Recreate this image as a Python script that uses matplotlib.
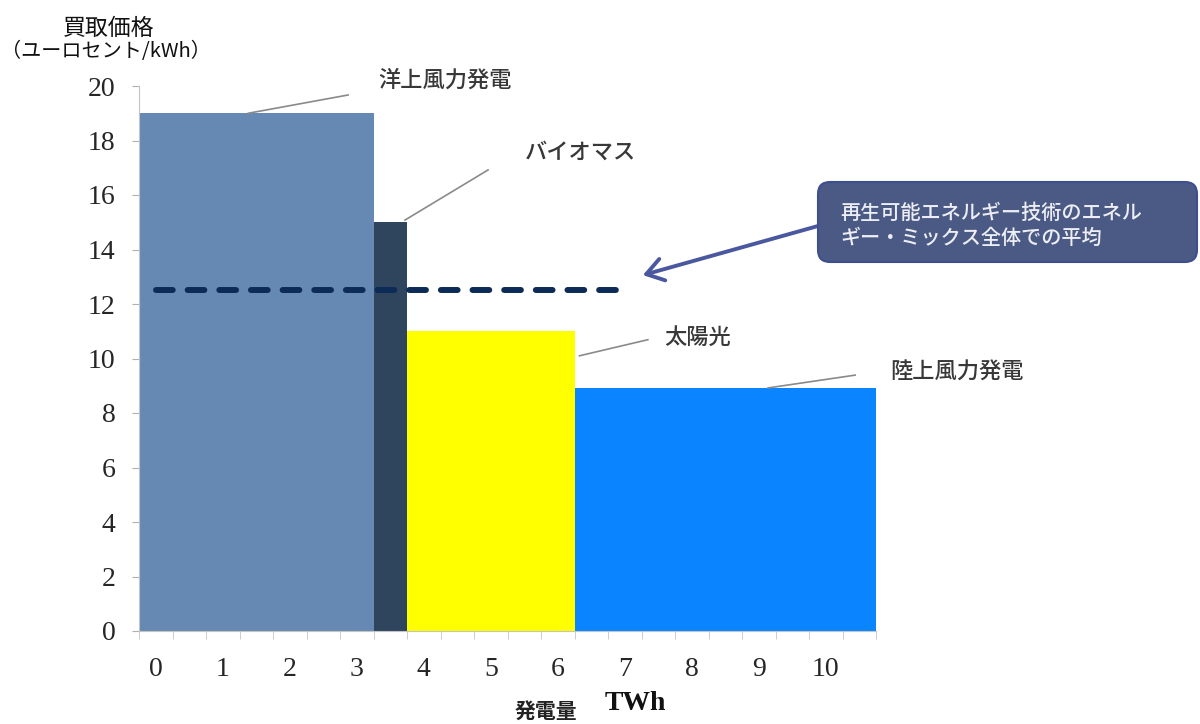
import numpy as np
import matplotlib.pyplot as plt
from matplotlib.patches import FancyBboxPatch

plt.rcParams['font.family'] = ['Liberation Serif', 'DejaVu Serif']
cjk = ['Noto Sans CJK JP', 'DejaVu Sans']

# data
sources = ["洋上風力発電", "バイオマス", "太陽光", "陸上風力発電"]
widths = [3.5, 0.5, 2.5, 4.5]          # TWh (half-unit grid of the original)
prices = [19.0, 15.0, 11.0, 8.9]       # euro cent / kWh
colors = ["#6689b3", "#2f445d", "#ffff00", "#0a84ff"]
avg_price = 12.5
avg_span = [0.25, 7.25]
xtick_labels = [str(i) for i in range(11)]
ytick_values = list(range(0, 21, 2))
avg_note = ["再生可能エネルギー技術のエネル", "ギー・ミックス全体での平均"]

lefts = np.concatenate([[0], np.cumsum(widths)[:-1]])

W, H = 1200, 724
fig = plt.figure(figsize=(W / 100, H / 100), dpi=100)
ax = fig.add_axes([139 / W, 1 - 631 / H, (876 - 139) / W, (631 - 86) / H])

ax.bar(lefts, prices, width=widths, align='edge', color=colors, linewidth=0, zorder=2)
ax.plot(avg_span, [avg_price] * 2, color='#0d2b57', lw=4.3,
        linestyle=(0, (2.8, 2.5)), dash_capstyle='round', zorder=3)

ax.set_xlim(0, sum(widths))
ax.set_ylim(0, 20)
for s in ['top', 'right']:
    ax.spines[s].set_visible(False)
for s in ['left', 'bottom']:
    ax.spines[s].set_color('#c4c4c4')

ax.set_yticks(ytick_values)
ax.tick_params(axis='y', length=5, color='#b0b0b0', pad=12, labelsize=20,
               labelcolor='#262626')
ax.set_xticks(np.arange(len(xtick_labels)) + 0.25)
ax.set_xticklabels(xtick_labels)
ax.set_xticks(np.arange(0, sum(widths) + 0.01, 0.5), minor=True)
ax.tick_params(axis='x', which='major', length=0, pad=19, labelsize=20,
               labelcolor='#262626')
ax.tick_params(axis='x', which='minor', length=6, color='#c4c4c4')

# leader lines and labels: (fraction along bar, y shift, leader dx, dy, text dx, dy)
layout = [(0.466, 0.0, 1.49, 0.67, 0.45, 0.55),
          (0.94, 0.08, 1.24, 1.84, 0.55, 0.66),
          (1.03, -0.9, 1.02, 0.59, 0.25, 0.07),
          (0.642, 0.02, 1.30, 0.47, 0.53, 0.11)]
for name, l, w, p, (fx, sy, dx, dy, tx, ty) in zip(sources, lefts, widths, prices, layout):
    x0, y0 = l + fx * w, p + sy
    ax.plot([x0, x0 + dx], [y0, y0 + dy], color='#8a8a8a', lw=1.2, zorder=4,
            clip_on=False)
    ax.text(x0 + dx + tx, y0 + dy + ty, name, family=cjk, fontsize=16,
            fontweight='medium', color='#383838', ha='left', va='center')

# note box with arrow
box = FancyBboxPatch((818 / W, 1 - 262 / H), (1197 - 818) / W, 80 / H,
                     boxstyle="round,pad=0,rounding_size=0.01",
                     mutation_aspect=W / H, transform=fig.transFigure,
                     facecolor='#4b5985', edgecolor='#3e4f8f', lw=1.5)
fig.patches.append(box)
fig.text(840 / W, 1 - 213 / H, avg_note[0], family=cjk, fontsize=14.5,
         fontweight='medium', color='#eceef4', ha='left', va='center')
fig.text(840 / W, 1 - 238 / H, avg_note[1], family=cjk, fontsize=14.5,
         fontweight='medium', color='#eceef4', ha='left', va='center')
ax.annotate('', xy=(7.52, 13.06), xycoords='data',
            xytext=(818 / W, 1 - 226 / H), textcoords='figure fraction',
            arrowprops=dict(arrowstyle='->,head_length=0.6,head_width=0.4',
                            mutation_scale=20, color='#4a58a0', lw=2.8,
                            shrinkA=0, shrinkB=0),
            annotation_clip=False)

# axis titles
fig.text(109 / W, 1 - 28 / H, "買取価格", family=cjk, fontsize=16.5,
         color='#111111', ha='center', va='center')
fig.text(106 / W, 1 - 52 / H, "（ユーロセント/kWh）", family=cjk, fontsize=14.5,
         color='#111111', ha='center', va='center')
fig.text(546 / W, 1 - 711 / H, "発電量", family=cjk, fontsize=15,
         fontweight='bold', color='#222222', ha='center', va='center')
fig.text(635 / W, 1 - 704 / H, "TWh", fontsize=20, fontweight='bold',
         color='#111111', ha='center', va='center')

fig.savefig("out.png", dpi=100)
